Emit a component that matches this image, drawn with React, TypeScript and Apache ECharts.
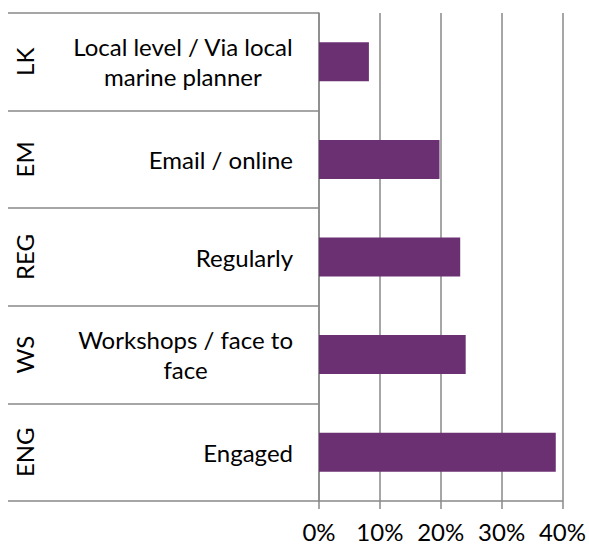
import React, { useEffect, useRef } from "react";
import * as echarts from "echarts";

const codes = ["LK", "EM", "REG", "WS", "ENG"];
const labels = [
  "Local level / Via local\nmarine planner",
  "Email / online",
  "Regularly",
  "Workshops / face to\nface",
  "Engaged",
];
const values = [8.2, 19.8, 23.2, 24.1, 38.9];
const tickMin = 0;
const tickMax = 40;
const tickStep = 10;

const FONT = "Lato";
const FS = 24;
const GRAY = "#898989";

export default function App() {
  const ref = useRef<HTMLDivElement>(null);
  useEffect(() => {
    if (!ref.current) return;
    const chart = echarts.init(ref.current, null, { renderer: "svg" });
    chart.setOption({
      animation: false,
      grid: { left: 319, right: 24, top: 13, bottom: 43, containLabel: false },
      xAxis: {
        type: "value",
        min: tickMin,
        max: tickMax,
        interval: tickStep,
        axisLine: { show: true, lineStyle: { color: GRAY, width: 1.5 } },
        axisTick: { show: true, length: 8, lineStyle: { color: GRAY, width: 1.5 } },
        splitLine: { show: true, lineStyle: { color: GRAY, width: 1.5 } },
        axisLabel: {
          formatter: (v: number) => v + "%",
          color: "#000",
          fontFamily: FONT,
          fontSize: FS,
          margin: 18,
        },
      },
      yAxis: [
        {
          type: "category",
          data: labels,
          inverse: true,
          position: "left",
          axisLine: { show: true, lineStyle: { color: GRAY, width: 1.5 } },
          axisTick: { show: true, length: 311, lineStyle: { color: GRAY, width: 1.5 } },
          splitLine: { show: false },
          axisLabel: {
            margin: 26,
            color: "#000",
            fontFamily: FONT,
            fontSize: FS,
            lineHeight: 30,
            formatter: (v: string) =>
              v
                .split("\n")
                .map((l) => "{c|" + l + "}")
                .join("\n"),
            rich: {
              c: { align: "center", fontFamily: FONT, fontSize: FS, lineHeight: 30, color: "#000" },
            },
          },
        },
        {
          type: "category",
          data: codes,
          inverse: true,
          position: "left",
          axisLine: { show: false },
          axisTick: { show: false },
          splitLine: { show: false },
          axisLabel: {
            rotate: 90,
            margin: 283,
            color: "#000",
            fontFamily: FONT,
            fontSize: FS,
          },
        },
      ],
      series: [
        {
          type: "bar",
          data: values,
          yAxisIndex: 0,
          barWidth: "40%",
          itemStyle: { color: "#6B3072" },
        },
      ],
    });
    return () => chart.dispose();
  }, []);
  return (
    <div
      ref={ref}
      style={{ position: "fixed", left: 0, top: 0, width: 589, height: 544, background: "#fff" }}
    />
  );
}
